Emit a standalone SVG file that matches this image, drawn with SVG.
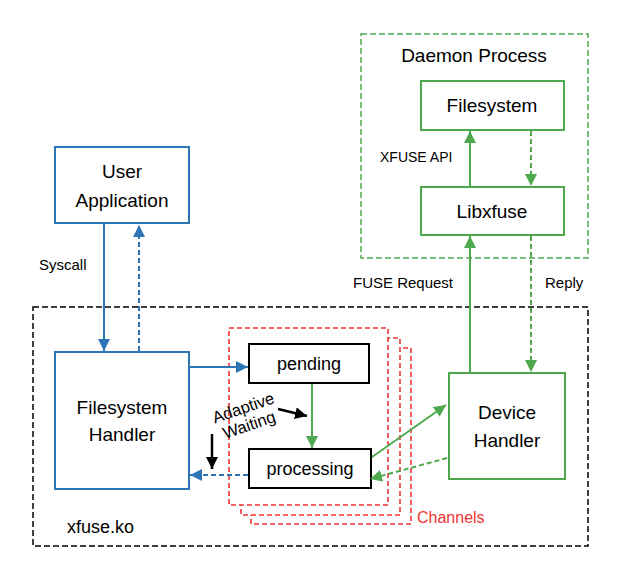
<svg xmlns="http://www.w3.org/2000/svg" width="628" height="576" viewBox="0 0 628 576">
<defs>
<style>
text{font-family:"Liberation Sans",Arial,sans-serif;fill:#000}
.lbl{font-size:19px;text-anchor:middle}
.sm{font-size:15px}
.blue{fill:#fff;stroke:#2E75B6;stroke-width:2}
.green{fill:#fff;stroke:#4EA94E;stroke-width:2}
.blk{fill:#fff;stroke:#000;stroke-width:2}
.red{fill:#fff;stroke:#EE3333;stroke-width:1.6;stroke-dasharray:5 3}
.cb{stroke:#2E75B6;stroke-width:2;fill:none}
.cg{stroke:#4EA94E;stroke-width:2;fill:none}
.ck{stroke:#000;stroke-width:2.5;fill:none}
.d{stroke-dasharray:5 3}
</style>
<marker id="ab" markerWidth="13" markerHeight="12" refX="12" refY="6" orient="auto" markerUnits="userSpaceOnUse"><path d="M0,0 L12,6 L0,12 z" fill="#2E75B6"/></marker>
<marker id="ag" markerWidth="13" markerHeight="12" refX="12" refY="6" orient="auto" markerUnits="userSpaceOnUse"><path d="M0,0 L12,6 L0,12 z" fill="#4EA94E"/></marker>
<marker id="ak" markerWidth="13" markerHeight="12" refX="12" refY="6" orient="auto" markerUnits="userSpaceOnUse"><path d="M0,0 L12,6 L0,12 z" fill="#000"/></marker>
</defs>
<rect width="628" height="576" fill="#fff"/>
<g id="kernel">
<rect x="33" y="307" width="555" height="239" fill="none" stroke="#000" stroke-width="1.5" stroke-dasharray="6 3"/>
<text x="67" y="533" style="font-size:18px">xfuse.ko</text>
</g>
<g id="daemon">
<rect x="361" y="34" width="227" height="224" fill="none" stroke="#4EA94E" stroke-width="1.5" stroke-dasharray="6 3"/>
<text class="lbl" x="474" y="62">Daemon Process</text>
</g>
<g id="channels">
<rect class="red" x="251" y="348" width="160" height="176"/>
<rect class="red" x="241" y="338" width="159" height="177"/>
<rect class="red" x="229" y="328" width="159" height="177"/>
<text x="417" y="523" style="font-size:16px;fill:#EE3333">Channels</text>
</g>
<g id="user-app">
<rect class="blue" x="55" y="147" width="134" height="76"/>
<text class="lbl" x="122" y="178">User</text>
<text class="lbl" x="122" y="207">Application</text>
</g>
<g id="fs-handler">
<rect class="blue" x="55" y="352" width="134" height="137"/>
<text class="lbl" x="122" y="414">Filesystem</text>
<text class="lbl" x="122" y="441">Handler</text>
</g>
<g id="pending">
<rect class="blk" x="249" y="344" width="120" height="39"/>
<text class="lbl" x="309" y="370" style="font-size:18px">pending</text>
</g>
<g id="processing">
<rect class="blk" x="249" y="449" width="122" height="39"/>
<text class="lbl" x="310" y="475" style="font-size:18px">processing</text>
</g>
<g id="device-handler">
<rect class="green" x="449" y="373" width="116" height="106"/>
<text class="lbl" x="507" y="419">Device</text>
<text class="lbl" x="507" y="447">Handler</text>
</g>
<g id="filesystem">
<rect class="green" x="421" y="81" width="143" height="49"/>
<text class="lbl" x="492" y="112">Filesystem</text>
</g>
<g id="libxfuse">
<rect class="green" x="421" y="187" width="143" height="48"/>
<text class="lbl" x="492" y="218">Libxfuse</text>
</g>
<g id="connectors">
<line class="cb" x1="104" y1="224" x2="104" y2="351" marker-end="url(#ab)"/>
<line class="cb d" x1="139" y1="351" x2="139" y2="225" marker-end="url(#ab)"/>
<line class="cb" x1="190" y1="367" x2="248" y2="367" marker-end="url(#ab)"/>
<line class="cb d" x1="248" y1="475" x2="190" y2="475" marker-end="url(#ab)"/>
<line class="cg" x1="312" y1="384" x2="312" y2="448" marker-end="url(#ag)"/>
<line class="cg" x1="372" y1="457" x2="446" y2="405" marker-end="url(#ag)"/>
<line class="cg d" x1="447" y1="458" x2="370" y2="479" marker-end="url(#ag)"/>
<line class="cg" x1="470" y1="372" x2="470" y2="236" marker-end="url(#ag)"/>
<line class="cg d" x1="531" y1="236" x2="531" y2="372" marker-end="url(#ag)"/>
<line class="cg" x1="470" y1="186" x2="470" y2="131" marker-end="url(#ag)"/>
<line class="cg d" x1="531" y1="131" x2="531" y2="186" marker-end="url(#ag)"/>
<line class="ck" x1="278" y1="409" x2="307" y2="416" marker-end="url(#ak)"/>
<line class="ck" x1="212" y1="434" x2="212" y2="469" marker-end="url(#ak)"/>
</g>
<g id="labels">
<text class="sm" x="39" y="270">Syscall</text>
<text x="380" y="162" style="font-size:14px">XFUSE API</text>
<text class="sm" x="353" y="288">FUSE Request</text>
<text class="sm" x="545" y="288">Reply</text>
<g transform="rotate(-19 247 422)">
<text x="248" y="413" style="font-size:16.5px;text-anchor:middle">Adaptive</text>
<text x="248" y="431" style="font-size:16.5px;text-anchor:middle">Waiting</text>
</g>
</g>
</svg>
